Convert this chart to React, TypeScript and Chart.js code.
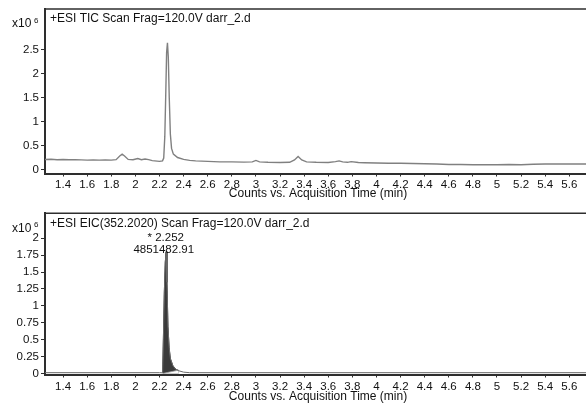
import React, { useEffect, useRef } from "react";
import { Chart, registerables } from "chart.js";

Chart.register(...registerables);

// ---------- data ----------
const ticTimes = [
  1.25, 1.3, 1.35, 1.4, 1.45, 1.5, 1.55, 1.6, 1.65, 1.7, 1.75, 1.8, 1.84, 1.87, 1.89, 1.91, 1.94, 1.98,
  2.02, 2.05, 2.08, 2.11, 2.14, 2.18, 2.2, 2.225, 2.235, 2.244, 2.252, 2.259, 2.266, 2.273, 2.281, 2.29, 2.3,
  2.315, 2.35, 2.4, 2.45, 2.5, 2.6, 2.7, 2.8, 2.9, 2.97, 3.0, 3.03, 3.1, 3.2, 3.28, 3.32, 3.35, 3.38, 3.42,
  3.5, 3.6, 3.66, 3.69, 3.72, 3.76, 3.79, 3.85, 3.9, 4.0, 4.1, 4.2, 4.3, 4.4, 4.5, 4.6, 4.7, 4.8, 4.9, 5.0,
  5.1, 5.2, 5.3, 5.4, 5.5, 5.6, 5.7, 5.78,
];
const ticValues = [
  0.22, 0.225, 0.215, 0.22, 0.215, 0.215, 0.21, 0.205, 0.21, 0.205, 0.21, 0.205, 0.215, 0.29, 0.33, 0.29, 0.22, 0.215,
  0.24, 0.215, 0.23, 0.215, 0.195, 0.185, 0.18, 0.19, 0.25, 0.7, 1.6, 2.45, 2.65, 2.35, 1.5, 0.75, 0.45,
  0.33, 0.26, 0.22, 0.2, 0.19, 0.18, 0.17, 0.17, 0.165, 0.17, 0.2, 0.17, 0.16, 0.155, 0.16, 0.21, 0.28, 0.21, 0.17,
  0.16, 0.155, 0.175, 0.19, 0.17, 0.16, 0.175, 0.155, 0.15, 0.145, 0.14, 0.14, 0.135, 0.13, 0.125, 0.115, 0.115, 0.11, 0.11, 0.11,
  0.115, 0.11, 0.12, 0.125, 0.125, 0.125, 0.125, 0.125,
];

const eicTimes = [
  1.25, 1.8, 2.2, 2.226, 2.232, 2.24, 2.248, 2.255, 2.262, 2.27, 2.28, 2.29, 2.31, 2.33, 2.36, 2.4, 2.45, 3.0, 5.78,
];
const eicValues = [
  0.012, 0.012, 0.012, 0.01, 0.5, 1.2, 1.65, 1.8, 1.35, 0.7, 0.38, 0.22, 0.12, 0.07, 0.04, 0.02, 0.012, 0.012, 0.012,
];
const baselineTimes = [2.226, 2.36];
const baselineValues = [0, 0.05];

const xTicks = [1.4, 1.6, 1.8, 2, 2.2, 2.4, 2.6, 2.8, 3, 3.2, 3.4, 3.6, 3.8, 4, 4.2, 4.4, 4.6, 4.8, 5, 5.2, 5.4, 5.6];
const ticYTicks = [0, 0.5, 1, 1.5, 2, 2.5];
const eicYTicks = [0, 0.25, 0.5, 0.75, 1, 1.25, 1.5, 1.75, 2];

const ticTitle = "+ESI TIC Scan Frag=120.0V darr_2.d";
const eicTitle = "+ESI EIC(352.2020) Scan Frag=120.0V darr_2.d";
const xAxisTitle = "Counts vs. Acquisition Time (min)";
const exponentBase = "x10";
const exponentPower = "6";
const peakTime = 2.252;
const peakLabelRT = "* 2.252";
const peakLabelArea = "4851482.91";
const peakRange = [2.226, 2.36];

// ---------- style ----------
const FONT = "'Liberation Sans', Arial, sans-serif";
const INK = "#111111";
const AXIS = "#2e2e2e";

const fmt = (v: number) => String(Number(v.toFixed(2)));

function decoPlugin(title: string, axisTitleY: number, annotate: boolean) {
  return {
    id: "deco",
    afterDraw(chart: any) {
      const { ctx, chartArea } = chart;
      const { left, top, right } = chartArea;
      ctx.save();
      ctx.strokeStyle = AXIS;
      ctx.lineWidth = 1.5;
      ctx.beginPath();
      ctx.moveTo(left, top);
      ctx.lineTo(right, top);
      ctx.stroke();

      ctx.fillStyle = INK;
      ctx.textBaseline = "middle";
      ctx.textAlign = "left";
      ctx.font = `12px ${FONT}`;
      ctx.fillText(exponentBase, 12, top + 15);
      ctx.font = `8px ${FONT}`;
      ctx.fillText(exponentPower, 34, top + 11.5);
      ctx.font = `12px ${FONT}`;
      ctx.fillText(title, left + 5, top + 10);

      ctx.textAlign = "center";
      ctx.fillText(xAxisTitle, (left + right) / 2, axisTitleY);

      if (annotate) {
        ctx.font = `11.5px ${FONT}`;
        const px = chart.scales.x.getPixelForValue(peakTime) - 1;
        ctx.fillText(peakLabelRT, px + 1, top + 25);
        ctx.fillText(peakLabelArea, px - 1, top + 37);
      }
      ctx.restore();
    },
  };
}

function xScale(height: number, pad: number) {
  return {
    type: "linear" as const,
    min: 1.25,
    max: 5.78,
    afterBuildTicks: (s: any) => {
      s.ticks = xTicks.map((v) => ({ value: v }));
    },
    afterFit: (s: any) => {
      s.height = height;
    },
    ticks: {
      autoSkip: false,
      maxRotation: 0,
      padding: pad,
      color: INK,
      font: { family: FONT, size: 11.5 },
      callback: (v: any) => fmt(Number(v)),
    },
    grid: { display: true, drawOnChartArea: false, drawTicks: true, tickLength: 3, color: AXIS, lineWidth: 1 },
    border: { display: true, color: AXIS, width: 2 },
  };
}

function yScale(min: number, max: number, ticks: number[]) {
  return {
    type: "linear" as const,
    min,
    max,
    afterBuildTicks: (s: any) => {
      s.ticks = ticks.map((v) => ({ value: v }));
    },
    afterFit: (s: any) => {
      s.width = 45;
    },
    ticks: {
      padding: 2,
      color: INK,
      font: { family: FONT, size: 11.5 },
      callback: (v: any) => fmt(Number(v)),
    },
    grid: { display: true, drawOnChartArea: false, drawTicks: true, tickLength: 4, color: AXIS, lineWidth: 1 },
    border: { display: true, color: AXIS, width: 2 },
  };
}

const pts = (xs: number[], ys: number[]) => xs.map((x, i) => ({ x, y: ys[i] }));

export default function App() {
  const topRef = useRef<HTMLCanvasElement>(null);
  const botRef = useRef<HTMLCanvasElement>(null);

  useEffect(() => {
    const common = {
      responsive: false,
      animation: false as const,
      events: [],
      plugins: { legend: { display: false }, tooltip: { enabled: false } },
      elements: { point: { radius: 0 } },
    };

    const top = new Chart(topRef.current!, {
      type: "line",
      data: {
        datasets: [
          {
            data: pts(ticTimes, ticValues),
            borderColor: "#808080",
            borderWidth: 1.4,
            tension: 0,
            fill: false,
          },
        ],
      },
      options: {
        ...common,
        layout: { padding: { top: 9, right: 5, left: 0, bottom: 0 } },
        scales: { x: xScale(26.5, 1), y: yScale(-0.073, 3.354, ticYTicks) },
      } as any,
      plugins: [decoPlugin(ticTitle, 194, false)],
    });

    const peakT: number[] = [];
    const peakV: number[] = [];
    eicTimes.forEach((t, i) => {
      if (t >= peakRange[0] && t <= peakRange[1]) {
        peakT.push(t);
        peakV.push(eicValues[i]);
      }
    });

    const bot = new Chart(botRef.current!, {
      type: "line",
      data: {
        datasets: [
          {
            data: pts(eicTimes, eicValues),
            borderColor: "#6a6a6a",
            borderWidth: 1,
            tension: 0,
            fill: false,
            order: 0,
          },
          {
            data: pts(baselineTimes, baselineValues),
            borderColor: "#9a9a9a",
            backgroundColor: "#ffffff",
            borderWidth: 0.8,
            tension: 0,
            fill: "origin",
            order: 1,
          },
          {
            data: pts(peakT, peakV),
            borderColor: "#2e2e2e",
            backgroundColor: "#3a3a3a",
            borderWidth: 1,
            tension: 0,
            fill: "origin",
            order: 2,
          },
        ],
      },
      options: {
        ...common,
        layout: { padding: { top: 13.3, right: 5, left: 0, bottom: 0 } },
        scales: { x: xScale(29.5, 2), y: yScale(-0.015, 2.37, eicYTicks) },
      } as any,
      plugins: [decoPlugin(eicTitle, 196.5, true)],
    });

    return () => {
      top.destroy();
      bot.destroy();
    };
  }, []);

  return (
    <div
      style={{
        position: "absolute",
        left: 0,
        top: 0,
        width: 586,
        height: 404,
        overflow: "hidden",
        background: "#ffffff",
      }}
    >
      <canvas ref={topRef} width={596} height={200} style={{ position: "absolute", left: 0, top: 0 }} />
      <canvas ref={botRef} width={596} height={204} style={{ position: "absolute", left: 0, top: 200 }} />
    </div>
  );
}
